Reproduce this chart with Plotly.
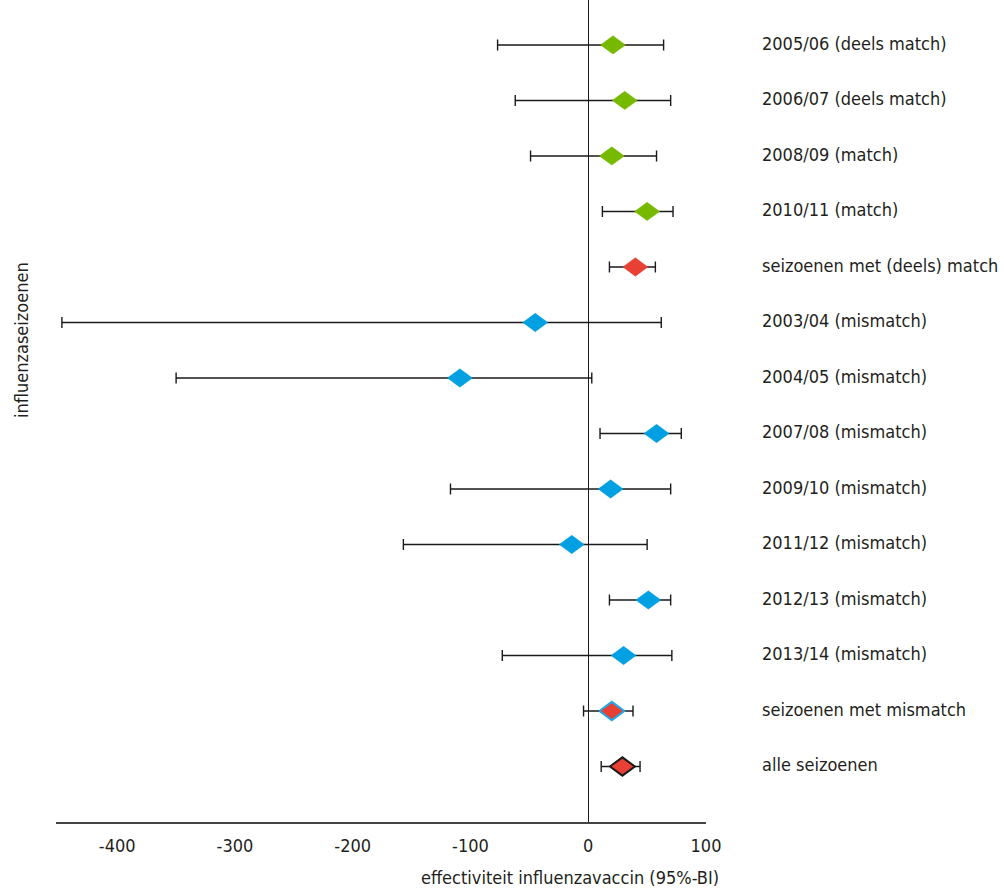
import plotly.graph_objects as go

labels = ["2005/06 (deels match)", "2006/07 (deels match)", "2008/09 (match)", "2010/11 (match)",
          "seizoenen met (deels) match", "2003/04 (mismatch)", "2004/05 (mismatch)",
          "2007/08 (mismatch)", "2009/10 (mismatch)", "2011/12 (mismatch)",
          "2012/13 (mismatch)", "2013/14 (mismatch)", "seizoenen met mismatch", "alle seizoenen"]
estimate = [21, 31, 20, 50, 40, -45, -109, 58, 19, -14, 51, 30, 20, 29]
lower = [-77, -62, -49, 12, 18, -447, -350, 10, -117, -157, 18, -73, -4, 11]
upper = [64, 70, 58, 72, 57, 62, 3, 79, 70, 50, 70, 71, 38, 44]
tick_values = [-400, -300, -200, -100, 0, 100]
tick_labels = ["-400", "-300", "-200", "-100", "0", "100"]

fill_colors = ["#76b900"] * 4 + ["#e84034"] + ["#00a0e2"] * 7 + ["#e84034", "#e84034"]
line_colors = ["#76b900"] * 4 + ["#e84034"] + ["#00a0e2"] * 7 + ["#22a7e8", "#1a1a1a"]
line_widths = [0.5] * 12 + [2, 2]

rows = list(range(1, len(labels) + 1))
FONT = "DejaVu Sans Condensed, Liberation Sans Narrow, sans-serif"
TXT = "#231f20"

fig = go.Figure()
# error bars (invisible markers carry them)
fig.add_trace(go.Scatter(
    x=estimate, y=rows, mode="markers",
    marker=dict(size=1, color="rgba(0,0,0,0)"),
    error_x=dict(type="data", symmetric=False,
                 array=[u - e for u, e in zip(upper, estimate)],
                 arrayminus=[e - l for e, l in zip(estimate, lower)],
                 color="#1a1a1a", thickness=1.4, width=5.5),
    showlegend=False, hoverinfo="skip"))

# diamonds as filled shapes built from the estimates
HW = 10.6   # half width in x data units
HH = 0.165  # half height in row units
for e, r, fc, lc, lw in zip(estimate, rows, fill_colors, line_colors, line_widths):
    fig.add_trace(go.Scatter(
        x=[e - HW, e, e + HW, e, e - HW], y=[r, r - HH, r, r + HH, r],
        mode="lines", fill="toself", fillcolor=fc,
        line=dict(color=lc, width=lw), showlegend=False, hoverinfo="skip"))

for r, lab in zip(rows, labels):
    fig.add_annotation(x=(760 - 56) / 650, xref="paper", y=r - 0.03, yref="y", text=lab,
                       showarrow=False, xanchor="left", yanchor="middle",
                       font=dict(family=FONT, size=18, color=TXT))

fig.add_annotation(x=-34 / 650, xref="paper", y=1 - 340 / 822, yref="paper",
                   text="influenzaseizoenen", textangle=-90, showarrow=False,
                   xanchor="center", yanchor="middle",
                   font=dict(family=FONT, size=18, color=TXT))
fig.add_annotation(x=(721 - 56) / 650, xref="paper", y=-56 / 822, yref="paper",
                   text="effectiviteit influenzavaccin (95%-BI)", showarrow=False,
                   xanchor="right", yanchor="middle",
                   font=dict(family=FONT, size=18, color=TXT))

fig.update_layout(
    width=1004, height=888,
    margin=dict(l=56, r=298, t=0, b=66),
    paper_bgcolor="white", plot_bgcolor="white",
    xaxis=dict(range=[-452, 100], tickvals=tick_values, ticktext=tick_labels,
               showgrid=False, zeroline=True, zerolinecolor="#1a1a1a", zerolinewidth=1.4,
               showline=True, linecolor="#444444", linewidth=2,
               ticks="outside", ticklen=6, tickcolor="rgba(0,0,0,0)",
               tickfont=dict(family=FONT, size=18, color=TXT)),
    yaxis=dict(range=[15.0, 0.19], showgrid=False, zeroline=False, showline=False,
               showticklabels=False, ticks=""),
)

fig.write_html("out.html", config={"displayModeBar": False},
               post_script="document.body.style.margin='0';")
